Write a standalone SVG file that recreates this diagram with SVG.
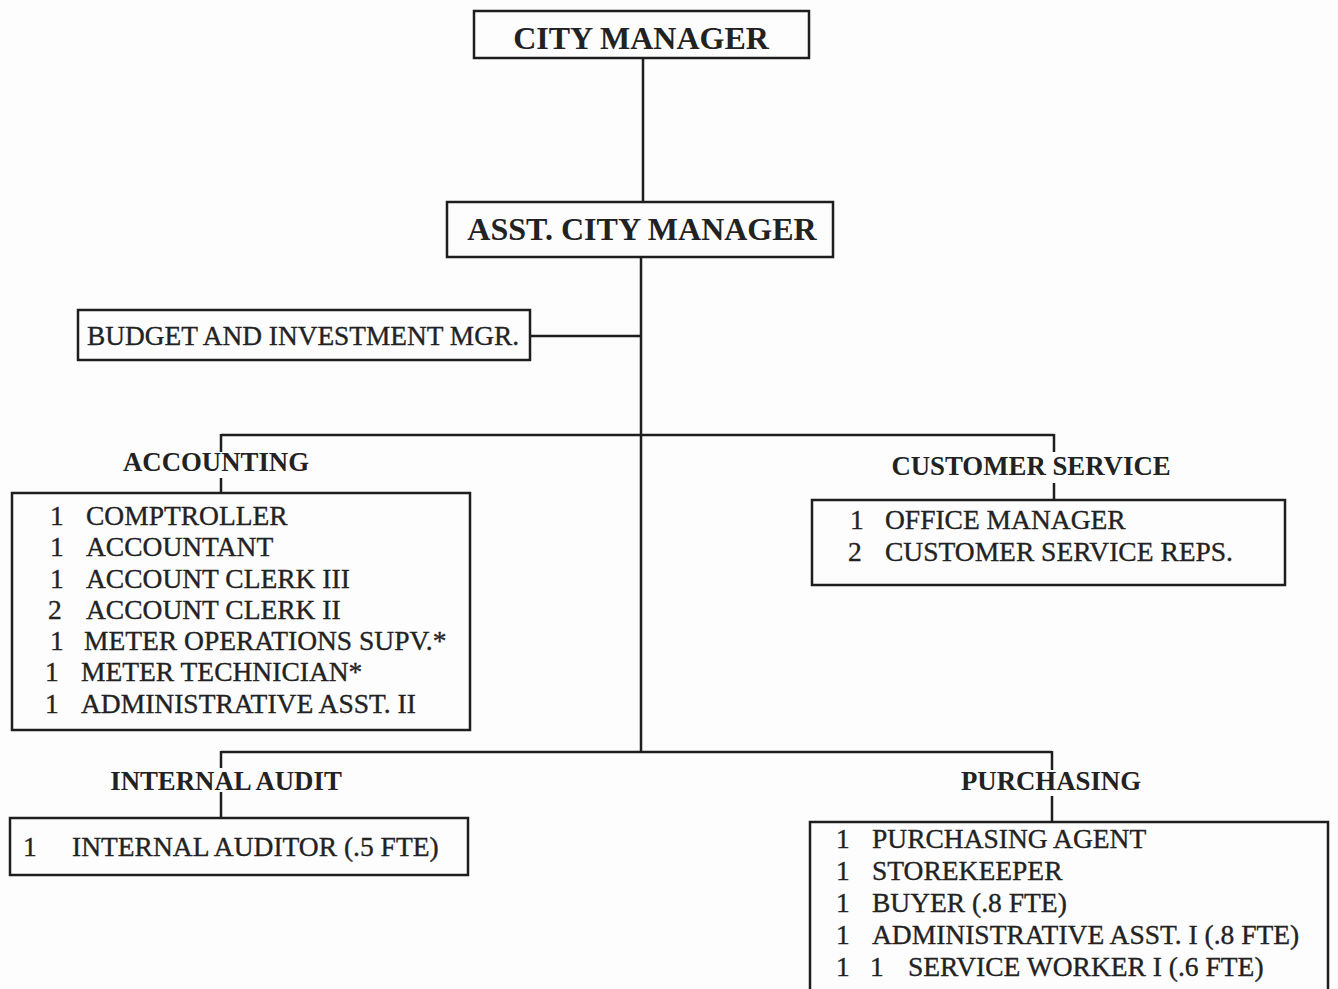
<svg xmlns="http://www.w3.org/2000/svg" width="1338" height="989" viewBox="0 0 1338 989">
<style>
.box{fill:none;stroke:#1e1e1e;stroke-width:2.5}
.ln{fill:none;stroke:#1e1e1e;stroke-width:2.5}
.t{font-family:"Liberation Serif","Times New Roman",serif;fill:#222;stroke:#222;stroke-width:0.35;font-size:27.5px}
.b{font-family:"Liberation Serif","Times New Roman",serif;fill:#222;font-size:26.8px;font-weight:bold}
.big{font-family:"Liberation Serif","Times New Roman",serif;fill:#222;font-size:32px;font-weight:bold}
</style>
<rect width="1338" height="989" fill="#fdfdfd"/>
<g id="connectors">
<path class="ln" d="M643 58 V202"/>
<path class="ln" d="M641 257 V752"/>
<path class="ln" d="M530 336 H641"/>
<path class="ln" d="M221 435 H1054"/>
<path class="ln" d="M221 434 V452 M221 478 V493"/>
<path class="ln" d="M1054 434 V452 M1054 483 V500"/>
<path class="ln" d="M221 752 H1052"/>
<path class="ln" d="M221 751 V768 M221 792 V818"/>
<path class="ln" d="M1052 751 V770 M1052 796 V822"/>
</g>
<g id="city-manager">
<rect class="box" x="474" y="11" width="335" height="47"/>
<text class="big" x="641" y="49" text-anchor="middle">CITY MANAGER</text>
</g>
<g id="asst-city-manager">
<rect class="box" x="447" y="202" width="386" height="55"/>
<text class="big" x="642" y="240" text-anchor="middle">ASST. CITY MANAGER</text>
</g>
<g id="budget">
<rect class="box" x="78" y="310" width="452" height="50"/>
<text class="t" x="87" y="345" textLength="432" lengthAdjust="spacingAndGlyphs">BUDGET AND INVESTMENT MGR.</text>
</g>
<g id="accounting">
<text class="b" x="216" y="471" text-anchor="middle">ACCOUNTING</text>
<rect class="box" x="12" y="493" width="458" height="237"/>
<text class="t" x="50" y="525">1</text><text class="t" x="86" y="525">COMPTROLLER</text>
<text class="t" x="50" y="556">1</text><text class="t" x="86" y="556">ACCOUNTANT</text>
<text class="t" x="50" y="588">1</text><text class="t" x="86" y="588">ACCOUNT CLERK III</text>
<text class="t" x="48" y="619">2</text><text class="t" x="86" y="619">ACCOUNT CLERK II</text>
<text class="t" x="50" y="650">1</text><text class="t" x="84" y="650">METER OPERATIONS SUPV.*</text>
<text class="t" x="45" y="681">1</text><text class="t" x="81" y="681">METER TECHNICIAN*</text>
<text class="t" x="45" y="713">1</text><text class="t" x="81" y="713">ADMINISTRATIVE ASST. II</text>
</g>
<g id="customer-service">
<text class="b" x="1031" y="475" text-anchor="middle">CUSTOMER SERVICE</text>
<rect class="box" x="812" y="500" width="473" height="85"/>
<text class="t" x="850" y="529">1</text><text class="t" x="885" y="529">OFFICE MANAGER</text>
<text class="t" x="848" y="561">2</text><text class="t" x="885" y="561">CUSTOMER SERVICE REPS.</text>
</g>
<g id="internal-audit">
<text class="b" x="226" y="790" text-anchor="middle">INTERNAL AUDIT</text>
<rect class="box" x="10" y="818" width="458" height="57"/>
<text class="t" x="23" y="856">1</text><text class="t" x="72" y="856">INTERNAL AUDITOR (.5 FTE)</text>
</g>
<g id="purchasing">
<text class="b" x="1051" y="790" text-anchor="middle">PURCHASING</text>
<rect class="box" x="810" y="822" width="518" height="200"/>
<text class="t" x="836" y="848">1</text><text class="t" x="872" y="848">PURCHASING AGENT</text>
<text class="t" x="836" y="880">1</text><text class="t" x="872" y="880">STOREKEEPER</text>
<text class="t" x="836" y="912">1</text><text class="t" x="872" y="912">BUYER (.8 FTE)</text>
<text class="t" x="836" y="944">1</text><text class="t" x="872" y="944">ADMINISTRATIVE ASST. I (.8 FTE)</text>
<text class="t" x="836" y="976">1</text><text class="t" x="870" y="976">1</text><text class="t" x="908" y="976">SERVICE WORKER I (.6 FTE)</text>
</g>
</svg>
